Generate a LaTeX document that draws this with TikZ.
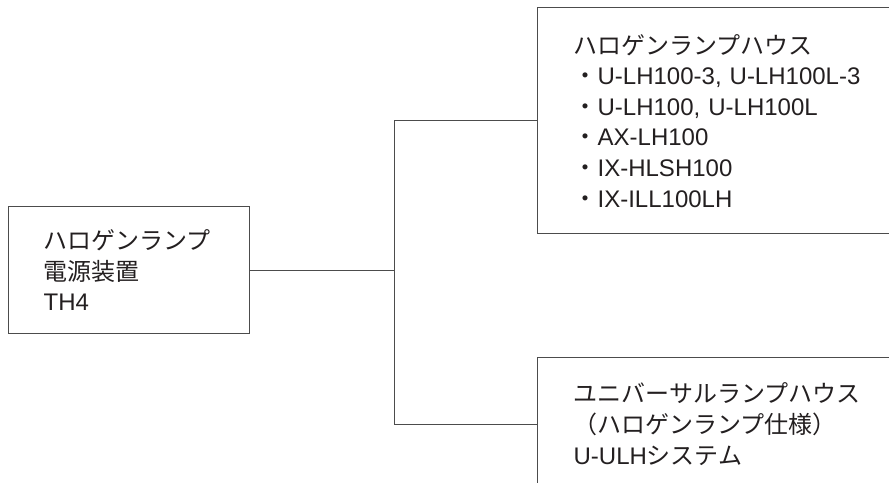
\documentclass[tikz,border=0pt]{standalone}
\usepackage{fontspec}
\setmainfont{Liberation Sans}
\newfontfamily\jpfont{Noto Sans CJK JP}
\usetikzlibrary{calc}
\definecolor{linegray}{gray}{0.3}
\definecolor{textblack}{HTML}{231F20}

\begin{document}
\begin{tikzpicture}[x=1pt,y=-1pt,
    box/.style={draw=linegray, line width=1.3pt, rectangle, anchor=north west,
        align=left, text=textblack, inner ysep=0pt,
        font=\fontsize{24}{30.6}\selectfont},
    wire/.style={draw=linegray, line width=1.3pt}]
    \useasboundingbox (0,0) rectangle (889,482);
    \clip (0,0) rectangle (889,482);

    % power supply
    \node[box, inner xsep=35pt, text width=171pt, minimum height=127pt] (supply) at (8,206)
        {{\jpfont ハロゲンランプ}\\{\jpfont 電源装置}\\TH4};

    % lamp houses (cut off at the right/bottom edge)
    \node[box, inner xsep=36pt, text width=328pt, minimum height=226pt] (house) at (537,7)
        {{\jpfont ハロゲンランプハウス}\\
         {\jpfont ・}U-LH100-3, U-LH100L-3\\
         {\jpfont ・}U-LH100, U-LH100L\\
         {\jpfont ・}AX-LH100\\
         {\jpfont ・}IX-HLSH100\\
         {\jpfont ・}IX-ILL100LH};
    \node[box, inner xsep=36pt, text width=328pt, minimum height=133pt] (universal) at (537,357)
        {{\jpfont ユニバーサルランプハウス}\\
         {\jpfont （ハロゲンランプ仕様）}\\
         U-ULH{\jpfont システム}};

    % connections
    \coordinate (fork) at ($(supply.east)+(144,0)$);
    \draw[wire] (supply.east) -- (fork);
    \draw[wire] (house.west) -| (fork) |- (universal.west);
\end{tikzpicture}
\end{document}
